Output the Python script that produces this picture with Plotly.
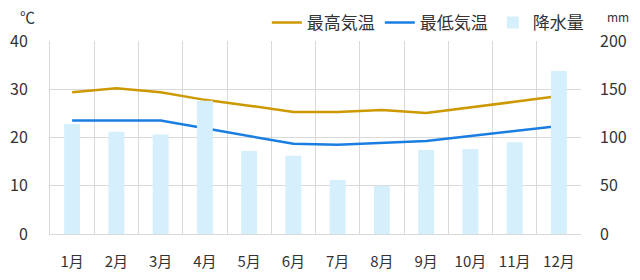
import plotly.graph_objects as go

months = ["1月", "2月", "3月", "4月", "5月", "6月", "7月", "8月", "9月", "10月", "11月", "12月"]
max_temp = [29.4, 30.2, 29.4, 27.8, 26.6, 25.3, 25.3, 25.7, 25.1, 26.2, 27.4, 28.6]
min_temp = [23.5, 23.5, 23.5, 21.9, 20.3, 18.7, 18.5, 18.9, 19.3, 20.3, 21.4, 22.4]
precip = [114, 106, 103, 138, 86, 81, 56, 50, 87, 88, 95, 169]

FONT = "Noto Sans CJK JP"
GRID = "#d9d9d9"
TXT = "#333333"

fig = go.Figure()
fig.add_trace(go.Bar(x=months, y=precip, name="降水量", yaxis="y2", legendrank=3,
                     marker=dict(color="#d5effc", line=dict(width=0))))
fig.add_trace(go.Scatter(x=months, y=max_temp, name="最高気温", mode="lines",
                         line=dict(color="#cc9900", width=2.5), legendrank=1))
fig.add_trace(go.Scatter(x=months, y=min_temp, name="最低気温", mode="lines",
                         line=dict(color="#1a7ee0", width=2.5), legendrank=2))

fig.update_layout(
    width=640, height=280,
    margin=dict(l=50, r=59, t=41, b=46, autoexpand=False),
    paper_bgcolor="white", plot_bgcolor="white",
    font=dict(family=FONT, size=16, color=TXT),
    bargap=0.64,
    showlegend=True,
    legend=dict(orientation="h", x=0.92, xanchor="right", y=0.982, yanchor="top",
                yref="container", xref="container", font=dict(size=17),
                itemwidth=30, bgcolor="rgba(0,0,0,0)"),
    xaxis=dict(type="category", tickson="boundaries", showgrid=True, gridcolor=GRID,
               gridwidth=1, showline=True, linecolor=GRID, ticks="", ticklabelstandoff=14,
               zeroline=False, tickfont=dict(size=15)),
    yaxis=dict(range=[0, 40], dtick=10, showgrid=True, gridcolor=GRID, showline=True,
               linecolor=GRID, ticks="", ticklabelstandoff=18, zeroline=False),
    yaxis2=dict(range=[0, 200], dtick=50, overlaying="y", side="right", showgrid=False,
                ticks="", ticklabelstandoff=18, zeroline=False, showline=False),
    annotations=[
        dict(text="℃", xref="paper", yref="paper", x=-0.025, y=1.0, xanchor="right",
             yanchor="bottom", yshift=12, showarrow=False, font=dict(size=15, color=TXT)),
        dict(text="mm", xref="paper", yref="paper", x=1.045, y=1.0, xanchor="left",
             yanchor="bottom", yshift=14, showarrow=False, font=dict(size=12, color=TXT)),
    ],
)
fig.write_html("out.html")
